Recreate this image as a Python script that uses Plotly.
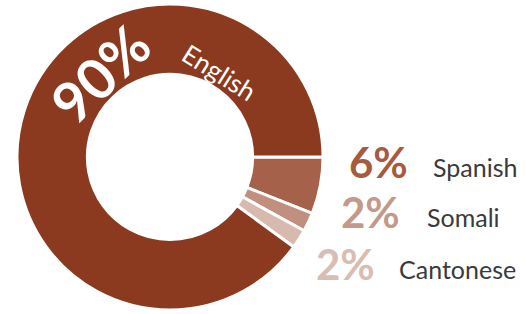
import plotly.graph_objects as go

# ---- data ----
languages = ["Spanish", "Somali", "Cantonese", "English"]
shares = [6, 2, 2, 90]
slice_colors = ["#A5614A", "#C08F7E", "#D8B9AD", "#8B3A1F"]
pct_text_colors = ["#A65A40", "#C4998A", "#D9BDB2"]

W, H = 526, 314
cx, cy, R = 170, 157, 153

fig = go.Figure(go.Pie(
    labels=languages,
    values=shares,
    sort=False,
    direction="clockwise",
    rotation=90,
    hole=0.54,
    marker=dict(colors=slice_colors, line=dict(color="white", width=3)),
    textinfo="none",
    hoverinfo="label+percent",
    showlegend=False,
    domain=dict(x=[(cx - R) / W, (cx + R) / W], y=[(H - cy - R) / H, (H - cy + R) / H]),
))

def px(x, y):
    return x / W, 1 - y / H

annotations = []
# label on the big slice
big_pct = f"{shares[3]}%"
x, y = px(100, 74)
annotations.append(dict(x=x, y=y, xref="paper", yref="paper", text=f"<b>{big_pct}</b>",
                        showarrow=False, textangle=-44, xanchor="center", yanchor="middle",
                        font=dict(family="Lato", size=56, color="white")))
x, y = px(219, 72)
annotations.append(dict(x=x, y=y, xref="paper", yref="paper", text=languages[3],
                        showarrow=False, textangle=32, xanchor="center", yanchor="middle",
                        font=dict(family="Lato", size=26, color="white")))

# right-side labels
pct_pos = [(347, 162), (339, 212), (314, 264)]
name_pos = [(431, 167), (425, 217), (397, 269)]
for i in range(3):
    x, y = px(*pct_pos[i])
    annotations.append(dict(x=x, y=y, xref="paper", yref="paper", text=f"<b>{shares[i]}%</b>",
                            showarrow=False, xanchor="left", yanchor="middle",
                            font=dict(family="Lato", size=42, color=pct_text_colors[i])))
    x, y = px(*name_pos[i])
    annotations.append(dict(x=x, y=y, xref="paper", yref="paper", text=languages[i],
                            showarrow=False, xanchor="left", yanchor="middle",
                            font=dict(family="Lato", size=25, color="#3A3A3A")))

fig.update_layout(
    width=W, height=H,
    margin=dict(l=0, r=0, t=0, b=0),
    paper_bgcolor="white", plot_bgcolor="white",
    annotations=annotations,
)

fig.write_html("out.html", config={"displayModeBar": False},
               post_script="document.body.style.margin='0';document.body.style.overflow='hidden';")
